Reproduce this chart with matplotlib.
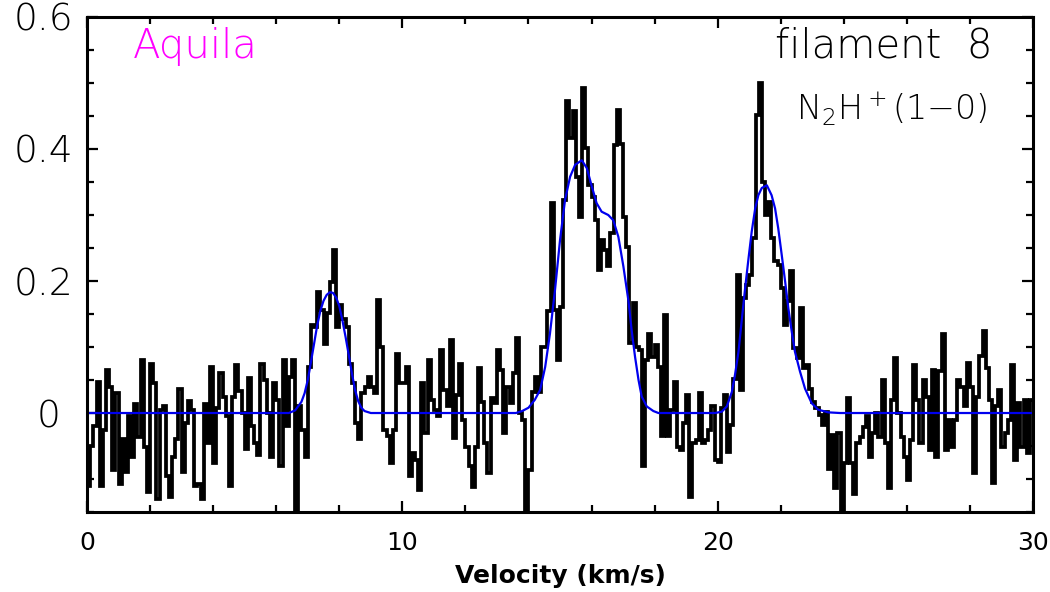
import numpy as np
import matplotlib
matplotlib.use('Agg')
import matplotlib.pyplot as plt
from matplotlib.ticker import MultipleLocator, FuncFormatter


# Spectrum: channel width 0.1 km/s, first channel centred at 0.05 km/s
chan_start = 0.05
chan_width = 0.1
tmb = [
    # 0 - 1 km/s
    -0.11, -0.05, -0.02, 0.047, -0.11, -0.025, 0.065, 0.04, -0.087, 0.03,
    # 1 - 2
    -0.107, -0.04, -0.09, -0.004, -0.066, 0.013, -0.036, 0.08, -0.051, -0.12,
    # 2 - 3
    0.075, 0.045, -0.13, 0.005, 0.010, -0.096, -0.127, -0.066, -0.04, 0.037,
    # 3 - 4
    -0.09, -0.015, 0.018, 0.005, -0.11, -0.107, -0.13, 0.014, -0.046, 0.07,
    # 4 - 5
    -0.076, 0.007, 0.06, 0.025, -0.005, -0.11, 0.025, 0.073, 0.033, 0.0,
    # 5 - 6
    -0.054, 0.053, -0.02, -0.046, -0.064, 0.075, 0.05, 0.0, -0.066, 0.045,
    # 6 - 7
    0.02, -0.081, 0.08, -0.02, 0.055, 0.08, -0.15, 0.01, -0.025, -0.066,
    # 7 - 8
    0.07, 0.133, 0.13, 0.184, 0.156, 0.105, 0.151, 0.199, 0.247, 0.13,
    # 8 - 9
    0.164, 0.143, 0.13, 0.075, 0.045, -0.015, -0.04, 0.03, 0.04, 0.055,
    # 9 - 10
    0.04, 0.03, 0.171, 0.1, -0.025, -0.035, -0.076, -0.025, 0.09, 0.045,
    # 10 - 11
    0.045, 0.07, -0.096, -0.06, -0.071, -0.117, 0.045, -0.031, 0.08, 0.02,
    # 11 - 12
    0.005, -0.005, 0.095, 0.035, 0.01, 0.11, -0.038, 0.027, 0.075, -0.01,
    # 12 - 13
    -0.051, -0.081, -0.112, -0.051, 0.068, 0.017, -0.046, -0.091, 0.022, 0.015,
    # 13 - 14
    0.095, 0.065, -0.031, 0.04, 0.015, 0.06, 0.113, 0.0, -0.01, -0.15,
    # 14 - 15
    -0.087, 0.032, 0.055, 0.032, 0.1, 0.1, 0.154, 0.318, 0.156, 0.08,
    # 15 - 16
    0.161, 0.323, 0.472, 0.416, 0.457, 0.358, 0.297, 0.492, 0.401, 0.346,
    # 16 - 17
    0.328, 0.292, 0.217, 0.262, 0.247, 0.222, 0.272, 0.406, 0.459, 0.408,
    # 17 - 18
    0.297, 0.252, 0.106, 0.166, 0.1, 0.095, -0.081, 0.08, 0.12, 0.085,
    # 18 - 19
    0.103, 0.07, -0.035, 0.148, -0.035, 0.005, 0.047, -0.051, -0.056, -0.015,
    # 19 - 20
    0.028, -0.127, -0.046, -0.041, 0.03, -0.046, -0.041, -0.025, 0.01, -0.071,
    # 20 - 21
    -0.074, 0.007, 0.027, -0.059, -0.018, 0.052, 0.209, 0.035, 0.174, 0.194,
    # 21 - 22
    0.209, 0.265, 0.451, 0.5, 0.35, 0.3, 0.32, 0.265, 0.23, 0.225,
    # 22 - 23
    0.19, 0.133, 0.169, 0.215, 0.098, 0.083, 0.159, 0.068, 0.073, 0.037,
    # 23 - 24
    0.017, 0.007, -0.003, -0.018, 0.002, -0.085, -0.033, -0.114, -0.031, -0.15,
    # 24 - 25
    -0.076, 0.022, -0.076, -0.122, -0.046, -0.036, -0.021, -0.005, -0.066, -0.031,
    # 25 - 26
    0.0, -0.036, 0.05, -0.046, -0.114, 0.02, 0.083, 0.0, -0.036, -0.066,
    # 26 - 27
    -0.102, -0.041, 0.073, 0.02, -0.046, 0.05, 0.025, -0.056, 0.065, -0.066,
    # 27 - 28
    0.063, 0.12, -0.056, -0.011, -0.051, -0.011, 0.05, 0.04, 0.01, 0.076,
    # 28 - 29
    0.04, -0.091, 0.025, 0.086, 0.124, 0.068, 0.02, -0.106, 0.01, 0.035,
    # 29 - 30
    -0.051, -0.031, -0.011, 0.073, -0.071, 0.015, -0.051, 0.02, -0.061, 0.02,
]

# hyperfine fit (blue)
fit_v = [0.0, 6.4, 6.6, 6.8, 6.9, 7.0, 7.1, 7.2, 7.3, 7.4, 7.5, 7.6, 7.7, 7.8,
         7.9, 8.0, 8.1, 8.2, 8.3, 8.4, 8.5, 8.6, 8.7, 8.8, 9.0,
         13.6, 13.8, 14.0, 14.2, 14.37, 14.53, 14.68, 14.84, 15.0, 15.16,
         15.32, 15.48, 15.69, 15.85, 16.01, 16.16, 16.32, 16.53, 16.69,
         16.85, 17.01, 17.17, 17.27, 17.38, 17.49, 17.59, 17.75, 17.96, 18.12,
         19.92, 20.13, 20.29, 20.45, 20.55, 20.66, 20.76, 20.87, 20.98, 21.08,
         21.19, 21.29, 21.4, 21.56, 21.71, 21.82, 21.92, 22.03, 22.14, 22.24,
         22.35, 22.45, 22.61, 22.77, 22.98, 23.19, 23.51, 23.88, 30.0]
fit_t = [0.0, 0.0, 0.004, 0.017, 0.03, 0.05, 0.077, 0.105, 0.133, 0.155, 0.17,
         0.179, 0.183, 0.182, 0.175, 0.162, 0.14, 0.115, 0.088, 0.06, 0.035,
         0.018, 0.008, 0.003, 0.0,
         0.0, 0.003, 0.008, 0.02, 0.035, 0.07, 0.12, 0.186, 0.262, 0.323,
         0.358, 0.376, 0.383, 0.371, 0.343, 0.318, 0.305, 0.3, 0.292,
         0.267, 0.222, 0.17, 0.126, 0.085, 0.05, 0.025, 0.01, 0.003, 0.0,
         0.0, 0.002, 0.01, 0.032, 0.058, 0.093, 0.139, 0.189, 0.235, 0.275,
         0.31, 0.33, 0.341, 0.345, 0.33, 0.31, 0.28, 0.24, 0.199, 0.159,
         0.123, 0.093, 0.063, 0.037, 0.015, 0.005, 0.001, 0.0, 0.0]

source_name = 'Aquila'
filament_name = 'filament  8'
line_name = 'N$_2$H$^+$(1\u22120)'

velocity = chan_start + chan_width * np.arange(len(tmb))

plt.rcParams['font.family'] = ['DejaVu Sans']
plt.rcParams['mathtext.fontset'] = 'custom'
plt.rcParams['mathtext.rm'] = 'DejaVu Sans:light'
plt.rcParams['mathtext.it'] = 'DejaVu Sans:light'

fig = plt.figure(figsize=(10.5, 5.92), dpi=100)
ax = fig.add_axes([0.0829, 0.1351, 0.9009, 0.8362])

ax.step(velocity, tmb, where='mid', color='black', lw=2.7, solid_joinstyle='miter')
ax.plot(fit_v, fit_t, color='#0000ee', lw=1.6)

ax.set_xlim(0, 30)
ax.set_ylim(-0.15, 0.6)

ax.xaxis.set_major_locator(MultipleLocator(10))
ax.xaxis.set_minor_locator(MultipleLocator(2))
ax.yaxis.set_major_locator(MultipleLocator(0.2))
ax.yaxis.set_minor_locator(MultipleLocator(0.05))
ax.yaxis.set_major_formatter(FuncFormatter(lambda y, p: '0 ' if abs(y) < 1e-9 else f'{y:.1f}'))

ax.tick_params(which='both', direction='in', top=True, right=True, width=1.6)
ax.tick_params(which='major', length=8)
ax.tick_params(which='minor', length=5)
ax.tick_params(axis='x', labelsize=18, pad=14)
ax.tick_params(axis='y', labelsize=27, pad=10)
for lab in ax.get_yticklabels():
    lab.set_fontweight('light')
for s in ax.spines.values():
    s.set_linewidth(2.2)

ax.set_xlabel('Velocity (km/s)', fontsize=18, fontweight='bold', labelpad=6)

ax.text(0.0486, 0.917, source_name, transform=ax.transAxes, color='#ff00ff',
        fontsize=29, fontweight='light', ha='left', va='baseline')
ax.text(0.957, 0.919, filament_name, transform=ax.transAxes, color='black',
        fontsize=29, fontweight='light', ha='right', va='baseline')
ax.text(0.952, 0.792, line_name, transform=ax.transAxes, color='black',
        fontsize=24, fontweight='light', ha='right', va='baseline')

fig.savefig('out.png', dpi=100)
